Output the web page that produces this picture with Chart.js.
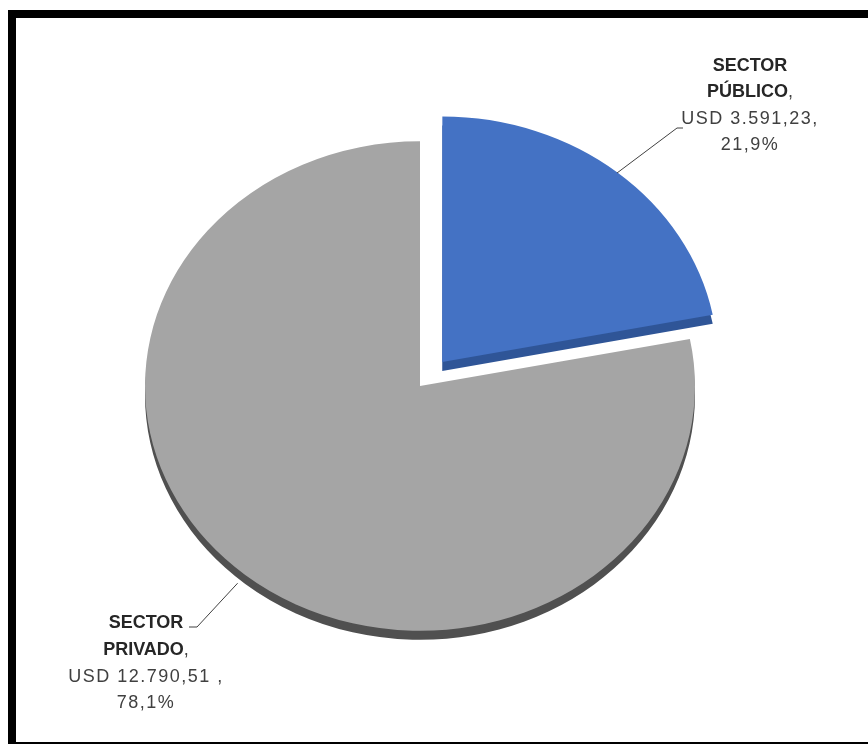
<!DOCTYPE html>
<html>
<head>
<meta charset="utf-8">
<script src="https://cdn.jsdelivr.net/npm/chart.js@4/dist/chart.umd.min.js"></script>
<style>
html,body{margin:0;padding:0;background:#fff;width:868px;height:744px;overflow:hidden;}
#c{position:absolute;left:0;top:0;}
#frame{position:absolute;left:8px;top:10px;width:900px;height:724px;border:8px solid #000;border-right:none;pointer-events:none;}
</style>
</head>
<body>
<canvas id="c" width="868" height="744"></canvas>
<div id="frame"></div>
<script>
// ---- data ----
const categories = ['SECTOR PÚBLICO', 'SECTOR PRIVADO'];
const valuesUSD = [3591.23, 12790.51];
const currency = 'USD';

// ---- styles ----
const faceColors = ['#4472C4', '#A5A5A5'];
const sideColors = ['#2F5597', '#505050'];
const TILT = 0.89;

function fmtNum(v){
  const parts = v.toFixed(2).split('.');
  const int = parts[0].replace(/\B(?=(\d{3})+(?!\d))/g, '.');
  return int + ',' + parts[1];
}
const total = valuesUSD.reduce((a,b)=>a+b,0);
const pctLabels = valuesUSD.map(v => (v/total*100).toFixed(1).replace('.', ',') + '%');
const valueLabels = [currency + ' ' + fmtNum(valuesUSD[0]) + ',', currency + ' ' + fmtNum(valuesUSD[1]) + ' ,'];

function center(chart){
  const a = chart.chartArea;
  return {cx:(a.left+a.right)/2, cy:(a.top+a.bottom)/2};
}

const pie3d = {
  id:'pie3d',
  beforeDatasetsDraw(chart){
    const meta = chart.getDatasetMeta(0);
    const ctx = chart.ctx;
    const {cx, cy} = center(chart);
    ctx.save();
    ctx.translate(cx, cy); ctx.scale(1, TILT); ctx.translate(-cx, -cy);
    [1, 0].forEach(i => {
      const el = meta.data[i];
      ctx.save();
      ctx.shadowColor = sideColors[i];
      ctx.shadowOffsetY = 9;
      ctx.shadowOffsetX = 0;
      ctx.shadowBlur = 0;
      el.draw(ctx, chart.chartArea);
      ctx.restore();
    });
    ctx.restore();
    return false;
  },
  afterDraw(chart){
    const ctx = chart.ctx;
    const meta = chart.getDatasetMeta(0);
    const {cx, cy} = center(chart);
    function anchor(i, extra){
      const el = meta.data[i];
      const mid = (el.startAngle + el.endAngle) / 2;
      const off = (el.options.offset || 0) / 4;
      const r = el.outerRadius + extra;
      const x = el.x + Math.cos(mid) * (r + off);
      const y = el.y + Math.sin(mid) * (r + off);
      return {x, y: cy + (y - cy) * TILT};
    }
    ctx.save();
    ctx.strokeStyle = '#404040';
    ctx.lineWidth = 1;
    // public leader
    let p = anchor(0, 0);
    ctx.beginPath();
    ctx.moveTo(p.x, p.y); ctx.lineTo(677, 128); ctx.lineTo(683, 128);
    ctx.stroke();
    // private leader
    p = anchor(1, 12);
    ctx.beginPath();
    ctx.moveTo(p.x, p.y); ctx.lineTo(197, 627); ctx.lineTo(189, 627);
    ctx.stroke();

    function drawLabel(i, x, ys){
      const words = categories[i].split(' ');
      ctx.textAlign = 'left';
      ctx.textBaseline = 'alphabetic';
      ctx.font = 'bold 18px "Liberation Sans", Arial, sans-serif';
      ctx.fillStyle = '#262626';
      ctx.letterSpacing = '0px';
      let w = ctx.measureText(words[0]).width;
      ctx.fillText(words[0], x - w/2, ys[0]);
      const wb = ctx.measureText(words[1]).width;
      ctx.font = '18px "Liberation Sans", Arial, sans-serif';
      const wc = ctx.measureText(',').width;
      const start = x - (wb + wc)/2;
      ctx.font = 'bold 18px "Liberation Sans", Arial, sans-serif';
      ctx.fillText(words[1], start, ys[1]);
      ctx.font = '18px "Liberation Sans", Arial, sans-serif';
      ctx.fillStyle = '#404040';
      ctx.fillText(',', start + wb, ys[1]);
      ctx.letterSpacing = '1.5px';
      w = ctx.measureText(valueLabels[i]).width;
      ctx.fillText(valueLabels[i], x - w/2, ys[2]);
      w = ctx.measureText(pctLabels[i]).width;
      ctx.fillText(pctLabels[i], x - w/2, ys[3]);
      ctx.letterSpacing = '0px';
    }
    drawLabel(0, 750, [71, 97, 124, 150]);
    drawLabel(1, 146, [628, 655, 682, 708]);
    ctx.restore();
  }
};

new Chart(document.getElementById('c'), {
  type: 'pie',
  data: {
    labels: categories,
    datasets: [{
      data: valuesUSD,
      backgroundColor: faceColors,
      borderWidth: 0,
      offset: [140, 0]
    }]
  },
  options: {
    responsive: false,
    animation: false,
    radius: 275,
    layout: {padding: {left: 0, right: 28, top: 28, bottom: 0}},
    plugins: {legend: {display: false}, tooltip: {enabled: false}}
  },
  plugins: [pie3d]
});
</script>
</body>
</html>
